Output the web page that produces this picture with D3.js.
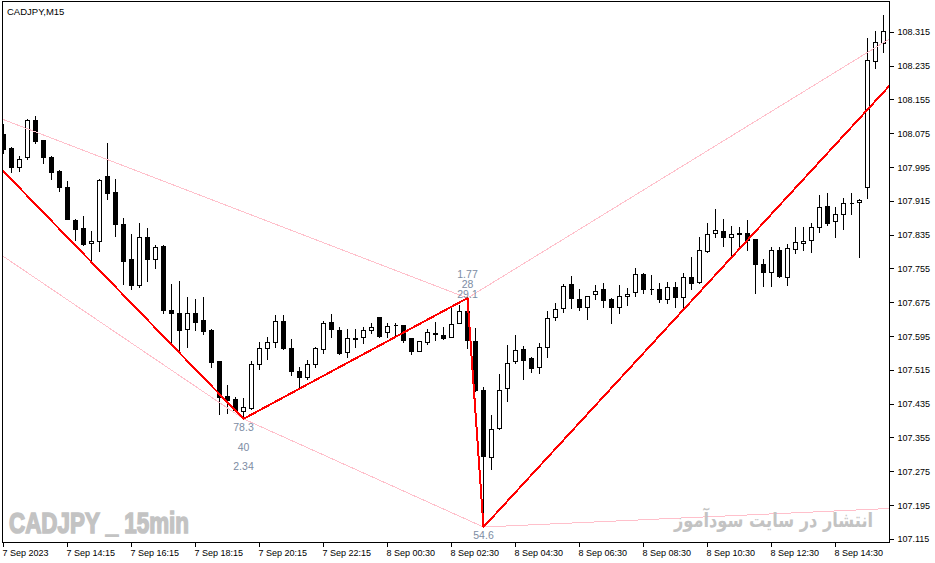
<!DOCTYPE html>
<html>
<head>
<meta charset="utf-8">
<script src="https://cdn.jsdelivr.net/npm/d3@7"></script>
<style>
  body { margin: 0; background: #fff; }
  svg { display: block; }
</style>
</head>
<body>
<div id="chart"></div>
<script>
// CADJPY M15 candles, 7 Sep 12:15 .. 8 Sep 15:45
var open = [108.074,108.041,107.996,108.020,108.107,108.060,108.020,107.987,107.949,107.871,
  107.852,107.816,107.821,107.975,107.937,107.861,107.779,107.717,107.831,107.779,
  107.809,107.658,107.651,107.613,107.651,107.634,107.610,107.537,107.454,107.447,
  107.419,107.426,107.530,107.568,107.582,107.632,107.568,107.513,107.499,107.530,
  107.566,107.629,107.610,107.558,107.591,107.594,107.610,107.641,107.606,107.622,
  107.622,107.591,107.561,107.582,107.603,107.599,107.594,107.627,107.655,107.584,
  107.468,107.310,107.378,107.473,107.537,107.566,107.544,107.523,107.570,107.641,
  107.663,107.719,107.684,107.665,107.696,107.708,107.684,107.665,107.691,107.700,
  107.743,107.708,107.708,107.684,107.712,107.689,107.736,107.724,107.797,107.840,
  107.845,107.831,107.840,107.840,107.825,107.767,107.748,107.800,107.736,107.802,
  107.816,107.823,107.854,107.904,107.868,107.885,107.911,107.913,107.949,108.247,
  108.290]
var high = [108.098,108.044,108.022,108.110,108.117,108.061,108.022,107.989,107.963,107.874,
  107.880,107.845,107.967,108.053,107.968,107.876,107.838,107.864,107.852,107.812,
  107.812,107.719,107.726,107.689,107.684,107.689,107.613,107.538,107.480,107.452,
  107.449,107.537,107.582,107.594,107.646,107.646,107.589,107.523,107.539,107.569,
  107.632,107.648,107.618,107.613,107.613,107.618,107.627,107.642,107.627,107.627,
  107.623,107.592,107.585,107.613,107.629,107.618,107.665,107.670,107.686,107.615,
  107.476,107.409,107.506,107.575,107.599,107.573,107.547,107.580,107.655,107.674,
  107.719,107.738,107.708,107.692,107.717,107.722,107.686,107.717,107.710,107.757,
  107.745,107.741,107.722,107.724,107.724,107.745,107.783,107.831,107.864,107.897,
  107.873,107.857,107.854,107.871,107.826,107.779,107.807,107.807,107.814,107.854,
  107.854,107.864,107.930,107.935,107.902,107.923,107.935,107.921,108.302,108.318,
  108.356]
var low = [108.029,107.984,107.987,108.015,108.053,108.006,107.968,107.939,107.872,107.823,
  107.812,107.771,107.797,107.921,107.833,107.719,107.708,107.712,107.726,107.757,
  107.651,107.575,107.561,107.570,107.610,107.601,107.523,107.412,107.414,107.419,
  107.400,107.424,107.518,107.542,107.570,107.566,107.504,107.476,107.495,107.523,
  107.556,107.594,107.554,107.547,107.570,107.580,107.603,107.595,107.594,107.596,
  107.582,107.554,107.560,107.577,107.587,107.589,107.593,107.626,107.568,107.467,
  107.144,107.282,107.377,107.442,107.532,107.495,107.511,107.509,107.547,107.634,
  107.653,107.663,107.658,107.637,107.684,107.665,107.627,107.651,107.670,107.691,
  107.698,107.696,107.677,107.674,107.665,107.665,107.708,107.721,107.795,107.831,
  107.809,107.783,107.802,107.800,107.698,107.715,107.715,107.736,107.717,107.793,
  107.800,107.795,107.842,107.859,107.831,107.850,107.885,107.783,107.923,108.231,
  108.268]
var close = [108.039,107.996,108.015,108.108,108.058,108.020,107.984,107.949,107.873,107.850,
  107.814,107.821,107.965,107.935,107.861,107.774,107.717,107.831,107.779,107.807,
  107.658,107.651,107.610,107.651,107.629,107.608,107.535,107.452,107.445,107.421,
  107.428,107.530,107.568,107.582,107.632,107.568,107.513,107.499,107.530,107.567,
  107.627,107.613,107.556,107.591,107.590,107.610,107.618,107.596,107.620,107.623,
  107.587,107.561,107.584,107.606,107.602,107.591,107.625,107.655,107.587,107.468,
  107.312,107.376,107.468,107.532,107.563,107.539,107.520,107.570,107.639,107.660,
  107.715,107.686,107.665,107.691,107.703,107.681,107.665,107.691,107.696,107.743,
  107.708,107.707,107.684,107.712,107.689,107.736,107.722,107.800,107.838,107.847,
  107.831,107.838,107.838,107.823,107.767,107.748,107.800,107.738,107.805,107.819,
  107.821,107.854,107.902,107.864,107.885,107.911,107.910,107.918,108.250,108.292,
  108.318]

// time axis: bar index of each label
var timeTickIdx = [0, 8, 16, 24, 32, 40, 48, 56, 64, 72, 80, 88, 96, 104]
var timeTickLabels = ["7 Sep 2023", "7 Sep 14:15", "7 Sep 16:15", "7 Sep 18:15", "7 Sep 20:15",
  "7 Sep 22:15", "8 Sep 00:30", "8 Sep 02:30", "8 Sep 04:30", "8 Sep 06:30", "8 Sep 08:30",
  "8 Sep 10:30", "8 Sep 12:30", "8 Sep 14:30"]
var priceTicks = [108.315, 108.235, 108.155, 108.075, 107.995, 107.915, 107.835, 107.755,
  107.675, 107.595, 107.515, 107.435, 107.355, 107.275, 107.195, 107.115]

// zigzag pivots (bar index, price)
var zigzagIdx = [-2, 30, 58, 60, 113]
var zigzagPrice = [108.025, 107.400, 107.686, 107.144, 108.235]

// pattern lines, each [idx0, price0, idx1, price1]
var patternLines = [
  [-2, 108.123, 58, 107.686],
  [58, 107.686, 112, 108.314],
  [-2, 107.810, 30, 107.400],
  [30, 107.400, 60, 107.144],
  [60, 107.144, 112, 107.189]
]

// ratio labels at pivots
var pivotLabelIdx = [30, 58, 60]
var pivotLabelPrice = [107.400, 107.686, 107.144]
var pivotLabelText = [["78.3", "40", "2.34"], ["1.77", "28", "29.1"], ["54.6"]]

var svgWidth = 935
var svgHeight = 563
var plot = { left: 2, top: 2, right: 889, bottom: 542 }

var svg = d3.select("#chart")
  .append("svg")
  .attr("width", svgWidth)
  .attr("height", svgHeight)
  .style("background", "#fff")

var xScale = d3.scaleLinear().domain([0, 110]).range([3.5, 883.5])
var yScale = d3.scaleLinear().domain([107.1086, 108.3868]).range([542, 2])

svg.append("clipPath").attr("id", "plotClip")
  .append("rect")
  .attr("x", plot.left + 1).attr("y", plot.top)
  .attr("width", plot.right - plot.left - 1).attr("height", plot.bottom - plot.top)

var plotGroup = svg.append("g").attr("clip-path", "url(#plotClip)")

// watermarks
svg.append("text")
  .attr("x", 9).attr("y", 533)
  .attr("textLength", 180).attr("lengthAdjust", "spacingAndGlyphs")
  .style("font-family", "'Liberation Sans', Arial, sans-serif")
  .style("font-weight", "bold").style("font-size", "30px")
  .style("fill", "#c3c3c3")
  .style("stroke", "#c3c3c3").style("stroke-width", "1.6px")
  .text("CADJPY _ 15min")

svg.append("text")
  .attr("x", 873).attr("y", 527)
  .attr("direction", "rtl")
  .attr("text-anchor", "start")
  .attr("textLength", 199).attr("lengthAdjust", "spacingAndGlyphs")
  .style("font-family", "'DejaVu Sans', sans-serif")
  .style("font-weight", "bold").style("font-size", "20px")
  .style("fill", "#c3c3c3")
  .text("انتشار در سایت سودآموز")

// candles
var bars = d3.range(open.length).map(function(i) {
  return { i: i, o: open[i], h: high[i], l: low[i], c: close[i] }
})

var candle = plotGroup.append("g").selectAll("g")
  .data(bars)
  .enter()
  .append("g")

candle.append("line")
  .attr("x1", d => xScale(d.i)).attr("x2", d => xScale(d.i))
  .attr("y1", d => Math.round(yScale(d.h)))
  .attr("y2", d => Math.round(yScale(d.l)) + 1)
  .attr("stroke", "#000")
  .attr("shape-rendering", "crispEdges")

candle.append("path")
  .attr("d", function(d) {
    var x0 = xScale(d.i) - 2
    var y0 = Math.round(yScale(Math.max(d.o, d.c))) + 0.5
    var y1 = Math.round(yScale(Math.min(d.o, d.c))) + 0.5
    return "M" + x0 + "," + y0 + "H" + (x0 + 4) + "V" + y1 + "H" + x0 + "Z"
  })
  .attr("fill", d => d.c >= d.o ? "#fff" : "#000")
  .attr("stroke", "#000")
  .attr("shape-rendering", "crispEdges")

// pattern lines
plotGroup.append("g").selectAll("line")
  .data(patternLines)
  .enter()
  .append("line")
  .attr("x1", d => xScale(d[0])).attr("y1", d => yScale(d[1]))
  .attr("x2", d => xScale(d[2])).attr("y2", d => yScale(d[3]))
  .attr("stroke", "#ffc0cb")
  .attr("stroke-width", 1)
  .attr("shape-rendering", "crispEdges")

// zigzag
var zigzag = d3.line()
  .x(d => xScale(d[0]))
  .y(d => yScale(d[1]))

plotGroup.append("path")
  .datum(d3.zip(zigzagIdx, zigzagPrice))
  .attr("d", zigzag)
  .attr("fill", "none")
  .attr("stroke", "#ff0000")
  .attr("stroke-width", 2)
  .attr("shape-rendering", "crispEdges")

// pivot ratio labels
var labelOffsets = [[12, 32, 51], [-20.5, -10.5, -0.5], [12]]
pivotLabelIdx.forEach(function(idx, k) {
  pivotLabelText[k].forEach(function(t, j) {
    svg.append("text")
      .attr("x", xScale(idx))
      .attr("y", yScale(pivotLabelPrice[k]) + labelOffsets[k][j])
      .attr("text-anchor", "middle")
      .style("font-family", "'Liberation Sans', Arial, sans-serif")
      .style("font-size", "10.5px")
      .style("fill", "#7d8ca3")
      .text(t)
  })
})

// frame
svg.append("rect")
  .attr("x", plot.left + 0.5).attr("y", plot.top - 0.5)
  .attr("width", plot.right - plot.left).attr("height", plot.bottom - plot.top + 1)
  .attr("fill", "none")
  .attr("stroke", "#000")
  .attr("shape-rendering", "crispEdges")

// axes
var rightAxis = d3.axisRight(yScale)
  .tickValues(priceTicks)
  .tickFormat(d3.format(".3f"))
  .tickSize(4)
  .tickSizeOuter(0)
  .offset(0)

var priceAxis = svg.append("g")
  .attr("transform", `translate(${plot.right + 0.5}, 0)`)
  .call(rightAxis)
priceAxis.select(".domain").remove()
priceAxis.selectAll("line").attr("shape-rendering", "crispEdges")
priceAxis.selectAll("text")
  .attr("x", 8)
  .attr("dy", "0.34em")
  .style("font-family", "'Liberation Sans', Arial, sans-serif")
  .style("font-size", "9px")
  .style("fill", "#000")

var bottomAxis = d3.axisBottom(xScale)
  .tickValues(timeTickIdx)
  .tickFormat((d, i) => timeTickLabels[i])
  .tickSize(4)
  .tickSizeOuter(0)
  .offset(0)

var timeAxis = svg.append("g")
  .attr("transform", `translate(0, ${plot.bottom + 0.5})`)
  .call(bottomAxis)
timeAxis.select(".domain").remove()
timeAxis.selectAll("line").attr("shape-rendering", "crispEdges")
timeAxis.selectAll("text")
  .attr("text-anchor", "start")
  .attr("x", -1)
  .attr("y", 13)
  .attr("dy", 0)
  .style("font-family", "'Liberation Sans', Arial, sans-serif")
  .style("font-size", "9px")
  .style("fill", "#000")

// symbol caption
svg.append("text")
  .attr("x", 7).attr("y", 14.5)
  .style("font-family", "'Liberation Sans', Arial, sans-serif")
  .style("font-size", "9.5px")
  .style("fill", "#000")
  .text("CADJPY,M15")
</script>
</body>
</html>
